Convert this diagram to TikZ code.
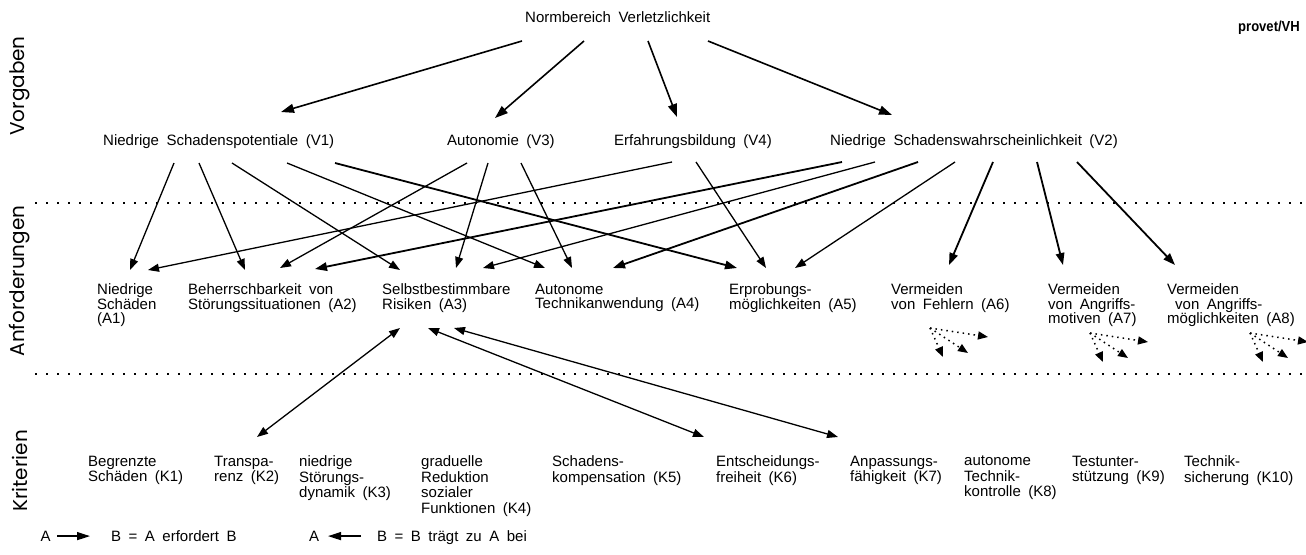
\documentclass[tikz,border=0pt]{standalone}
\usepackage{fontspec}
\setmainfont{Liberation Sans}[WordSpace=1.8]
\newfontfamily\sidefont{Poppins}
\newfontfamily\provfont{Liberation Sans}[FakeStretch=0.9]
\usetikzlibrary{arrows.meta}
\tikzset{
  lbl/.style={anchor=north west, inner sep=0pt, align=left,
    font=\fontsize{15}{14.5}\selectfont, execute at begin node={\vphantom{(}}},
  klbl/.style={lbl, font=\fontsize{15}{15.5}\selectfont},
  side/.style={rotate=90, inner sep=0pt, font=\sidefont\fontsize{20}{20}\selectfont},
  arr/.style={-{Triangle[length=11pt,width=8pt]}, line width=1.3pt},
  tarr/.style={-{Triangle[length=12pt,width=8.5pt]}, line width=1.8pt},
  narr/.style={-{Triangle[length=13pt,width=9pt]}, line width=1.6pt},
  darr/.style={{Triangle[length=11pt,width=8pt]}-{Triangle[length=11pt,width=8pt]}, line width=1.3pt},
  legarr/.style={-{Triangle[length=13pt,width=8pt]}, line width=1.4pt},
  sep/.style={line width=1.8pt, dash pattern=on 1.8pt off 9.2pt},
  dotarr/.style={line width=1.5pt, dash pattern=on 1.5pt off 4pt, -{Triangle[length=10pt,width=8pt]}},
  fan/.pic={
    \draw[dotarr] (0,0) -- (58,9);
    \draw[dotarr] (0,0) -- (13,29);
    \draw[dotarr] (0,0) -- (38,25);
  }
}
\begin{document}
\begin{tikzpicture}[x=1pt,y=-1pt]
\useasboundingbox (0,0) rectangle (1306,554);
\fill[white] (0,0) rectangle (1306,554);

% side labels
\node[side] (SV) at (20,86) {Vorgaben};
\node[side] (SA) at (20,281) {Anforderungen};
\node[side] (SK) at (20,471) {Kriterien};

% separators
\draw[sep] (35,203) -- (1306,203);
\draw[sep] (35,374) -- (1306,374);

% top
\node[lbl] (N) at (525,11.6) {Normbereich Verletzlichkeit};
\node[anchor=north west, inner sep=0pt, font=\provfont\bfseries\fontsize{14.5}{14.5}\selectfont] (P) at (1238,20.5) {provet/VH};

% Vorgaben
\node[lbl] (V1) at (103,134.6) {Niedrige Schadenspotentiale (V1)};
\node[lbl] (V3) at (447,134.6) {Autonomie (V3)};
\node[lbl] (V4) at (614,134.6) {Erfahrungsbildung (V4)};
\node[lbl] (V2) at (830,134.6) {Niedrige Schadenswahrscheinlichkeit (V2)};

% Anforderungen
\node[lbl] (A1) at (97,283.6) {Niedrige\\Schäden\\(A1)};
\node[lbl] (A2) at (188,283.6) {Beherrschbarkeit von\\Störungssituationen (A2)};
\node[lbl] (A3) at (382,283.6) {Selbstbestimmbare\\Risiken (A3)};
\node[lbl] (A4) at (535,283.6) {Autonome\\Technikanwendung (A4)};
\node[lbl] (A5) at (729,283.6) {Erprobungs-\\möglichkeiten (A5)};
\node[lbl] (A6) at (891,283.6) {Vermeiden\\von Fehlern (A6)};
\node[lbl] (A7) at (1048,283.6) {Vermeiden\\von Angriffs-\\motiven (A7)};
\node[lbl] (A8) at (1167,283.6) {Vermeiden\\\hspace*{8pt}von Angriffs-\\möglichkeiten (A8)};

% Kriterien
\node[klbl] (K1) at (88,455.6) {Begrenzte\\Schäden (K1)};
\node[klbl] (K2) at (214,455.6) {Transpa-\\renz (K2)};
\node[klbl] (K3) at (299,455.6) {niedrige\\Störungs-\\dynamik (K3)};
\node[klbl] (K4) at (421,455.6) {graduelle\\Reduktion\\sozialer\\Funktionen (K4)};
\node[klbl] (K5) at (552,455.6) {Schadens-\\kompensation (K5)};
\node[klbl] (K6) at (716,455.6) {Entscheidungs-\\freiheit (K6)};
\node[klbl] (K7) at (850,455.6) {Anpassungs-\\fähigkeit (K7)};
\node[klbl] (K8) at (964,455.6) {autonome\\Technik-\\kontrolle (K8)};
\node[klbl] (K9) at (1072,455.6) {Testunter-\\stützung (K9)};
\node[klbl] (K10) at (1184,455.6) {Technik-\\sicherung (K10)};

% legend
\node[lbl] (LA1) at (40.5,530.6) {A};
\node[lbl] (LB1) at (111,530.6) {B = A erfordert B};
\node[lbl] (LA2) at (309,530.6) {A};
\node[lbl] (LB2) at (377,530.6) {B = B trägt zu A bei};
\draw[legarr] ([shift={(16.5,5.5)}]LA1.north west) -- ([shift={(-21,5.5)}]LB1.north west);
\draw[legarr] ([shift={(-16,5.5)}]LB2.north west) -- ([shift={(19,5.5)}]LA2.north west);

% Normbereich -> Vorgaben
\draw[narr] ([shift={(-3,29.4)}]N.north west) -- ([shift={(178,-22.6)}]V1.north west);
\draw[narr] ([shift={(59,29.4)}]N.north west) -- ([shift={(48,-16.6)}]V3.north west);
\draw[narr] ([shift={(123,29.4)}]N.north west) -- ([shift={(63,-17.6)}]V4.north west);
\draw[narr] ([shift={(183,29.4)}]N.north west) -- ([shift={(62,-19.6)}]V2.north west);

% V1 -> A
\draw[arr] ([shift={(71,28.4)}]V1.north west) -- ([shift={(33,-13.6)}]A1.north west);
\draw[arr] ([shift={(96,28.4)}]V1.north west) -- ([shift={(57,-13.6)}]A2.north west);
\draw[arr] ([shift={(129,28.4)}]V1.north west) -- ([shift={(18,-13.6)}]A3.north west);
\draw[arr] ([shift={(184,28.4)}]V1.north west) -- ([shift={(10,-15.6)}]A4.north west);
\draw[tarr] ([shift={(232,28.4)}]V1.north west) -- ([shift={(8,-15.6)}]A5.north west);

% V3 -> A
\draw[arr] ([shift={(20,28.4)}]V3.north west) -- ([shift={(92,-15.6)}]A2.north west);
\draw[arr] ([shift={(41,28.4)}]V3.north west) -- ([shift={(74,-15.6)}]A3.north west);
\draw[arr] ([shift={(74,28.4)}]V3.north west) -- ([shift={(37,-15.6)}]A4.north west);

% V4 -> A
\draw[arr] ([shift={(58,27.4)}]V4.north west) -- ([shift={(51,-13.6)}]A1.north west);
\draw[arr] ([shift={(82,27.4)}]V4.north west) -- ([shift={(37,-15.6)}]A5.north west);

% V2 -> A
\draw[tarr] ([shift={(12,27.4)}]V2.north west) -- ([shift={(127,-14.6)}]A2.north west);
\draw[arr] ([shift={(45,27.4)}]V2.north west) -- ([shift={(101,-15.6)}]A3.north west);
\draw[tarr] ([shift={(88,27.4)}]V2.north west) -- ([shift={(78,-15.6)}]A4.north west);
\draw[arr] ([shift={(125,27.4)}]V2.north west) -- ([shift={(66,-15.6)}]A5.north west);
\draw[tarr] ([shift={(163,27.4)}]V2.north west) -- ([shift={(58,-18.6)}]A6.north west);
\draw[tarr] ([shift={(207,27.4)}]V2.north west) -- ([shift={(15,-18.6)}]A7.north west);
\draw[tarr] ([shift={(247,27.4)}]V2.north west) -- ([shift={(8,-18.6)}]A8.north west);

% A3 <-> K
\draw[darr] ([shift={(18,44.4)}]A3.north west) -- ([shift={(43,-18.6)}]K2.north west);
\draw[darr] ([shift={(46,44.4)}]A3.north west) -- ([shift={(-12,-18.6)}]K6.north west);
\draw[darr] ([shift={(72,44.4)}]A3.north west) -- ([shift={(-12,-18.6)}]K7.north west);

% dotted fans
\coordinate (F6) at ([shift={(39,44.4)}]A6.north west);
\coordinate (F7) at ([shift={(42,49.4)}]A7.north west);
\coordinate (F8) at ([shift={(83,49.4)}]A8.north west);
\pic at (F6) {fan};
\pic at (F7) {fan};
\pic at (F8) {fan};
\end{tikzpicture}
\end{document}
